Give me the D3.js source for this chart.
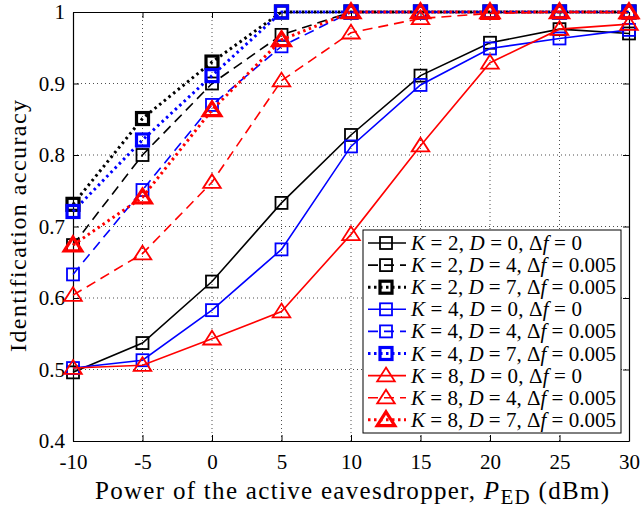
<!DOCTYPE html>
<html>
<head>
<meta charset="utf-8">
<script src="https://cdn.jsdelivr.net/npm/d3@7"></script>
<style>
  body { margin: 0; background: #fff; }
  svg text { font-family: "Liberation Serif", "DejaVu Serif", serif; }
</style>
</head>
<body>
<svg id="chart" width="643" height="510"></svg>
<script>
// power of eavesdropper (dBm)
const power = [-10, -5, 0, 5, 10, 15, 20, 25, 30];

// identification accuracy, one array per curve
const k2d0 = [0.496, 0.537, 0.623, 0.733, 0.828, 0.911, 0.957, 0.976, 0.970];
const k2d4 = [0.674, 0.800, 0.900, 0.968, 1.0, 1.0, 1.0, 1.0, 1.0];
const k2d7 = [0.731, 0.851, 0.930, 1.0, 1.0, 1.0, 1.0, 1.0, 1.0];
const k4d0 = [0.502, 0.513, 0.583, 0.668, 0.812, 0.898, 0.949, 0.963, 0.975];
const k4d4 = [0.633, 0.751, 0.870, 0.952, 1.0, 1.0, 1.0, 1.0, 1.0];
const k4d7 = [0.721, 0.821, 0.911, 1.0, 1.0, 1.0, 1.0, 1.0, 1.0];
const k8d0 = [0.502, 0.506, 0.543, 0.581, 0.689, 0.813, 0.929, 0.976, 0.983];
const k8d4 = [0.604, 0.662, 0.762, 0.904, 0.971, 0.991, 0.998, 1.0, 0.999];
const k8d7 = [0.674, 0.741, 0.863, 0.961, 1.0, 1.0, 1.0, 1.0, 1.0];

const xTicks = [-10, -5, 0, 5, 10, 15, 20, 25, 30];
const yTicks = [0.4, 0.5, 0.6, 0.7, 0.8, 0.9, 1];

const series = [
  { K: 2, D: 0, df: "0",     values: k2d0, color: "#000", style: "solid",  marker: "square" },
  { K: 2, D: 4, df: "0.005", values: k2d4, color: "#000", style: "dashed", marker: "square" },
  { K: 2, D: 7, df: "0.005", values: k2d7, color: "#000", style: "dotted", marker: "square" },
  { K: 4, D: 0, df: "0",     values: k4d0, color: "#0000ff", style: "solid",  marker: "square" },
  { K: 4, D: 4, df: "0.005", values: k4d4, color: "#0000ff", style: "dashed", marker: "square" },
  { K: 4, D: 7, df: "0.005", values: k4d7, color: "#0000ff", style: "dotted", marker: "square" },
  { K: 8, D: 0, df: "0",     values: k8d0, color: "#ff0000", style: "solid",  marker: "triangle" },
  { K: 8, D: 4, df: "0.005", values: k8d4, color: "#ff0000", style: "dashed", marker: "triangle" },
  { K: 8, D: 7, df: "0.005", values: k8d7, color: "#ff0000", style: "dotted", marker: "triangle" }
];

const svg = d3.select("#chart");
const margin = { left: 73, right: 14, top: 12, bottom: 69 };
const W = 643, H = 510;

const x = d3.scaleLinear().domain([-10, 30]).range([margin.left, W - margin.right]);
const y = d3.scaleLinear().domain([0.4, 1]).range([H - margin.bottom, margin.top]);

const x0 = x.range()[0], x1 = x.range()[1];
const y0 = y.range()[0], y1 = y.range()[1];

// grid
const grid = svg.append("g");
grid.selectAll(".vg").data(xTicks.slice(1, -1)).enter().append("line")
  .attr("x1", d => x(d)).attr("x2", d => x(d))
  .attr("y1", y0).attr("y2", y1)
  .attr("stroke", "#222").attr("stroke-width", 0.8).attr("stroke-dasharray", "1,3");
grid.selectAll(".hg").data(yTicks.slice(1, -1)).enter().append("line")
  .attr("y1", d => y(d)).attr("y2", d => y(d))
  .attr("x1", x0).attr("x2", x1)
  .attr("stroke", "#222").attr("stroke-width", 0.8).attr("stroke-dasharray", "1,3");

// axes
const fmtX = d => String(d).replace("\u2212", "-");
const fmtY = d => d === 1 ? "1" : d3.format(".1f")(d);

const xAxis = svg.append("g").attr("transform", `translate(0,${y0})`)
  .call(d3.axisBottom(x).tickValues(xTicks).tickSizeInner(-6).tickSizeOuter(0).tickPadding(13).tickFormat(fmtX));
const xAxisTop = svg.append("g").attr("transform", `translate(0,${y1})`)
  .call(d3.axisTop(x).tickValues(xTicks).tickSizeInner(-6).tickSizeOuter(0).tickFormat(""));
const yAxis = svg.append("g").attr("transform", `translate(${x0},0)`)
  .call(d3.axisLeft(y).tickValues(yTicks).tickSizeInner(-6).tickSizeOuter(0).tickPadding(8).tickFormat(fmtY));
const yAxisRight = svg.append("g").attr("transform", `translate(${x1},0)`)
  .call(d3.axisRight(y).tickValues(yTicks).tickSizeInner(-6).tickSizeOuter(0).tickFormat(""));

[xAxis, xAxisTop, yAxis, yAxisRight].forEach(a => {
  a.select(".domain").attr("stroke", "#000").attr("stroke-width", 1.2);
  a.selectAll(".tick line").attr("stroke", "#000").attr("stroke-width", 1);
  a.selectAll("text").attr("fill", "#000").style("font-size", "21px")
    .style("font-family", "'Liberation Serif', serif");
});

// lines and markers
const line = d3.line().x((d, i) => x(power[i])).y(d => y(d));

function dash(s) {
  if (s === "dashed") return "10,6";
  if (s === "dotted") return "2.5,3.5";
  return null;
}
function lw(s) { return s === "dotted" ? 3 : 1.6; }
function mw(s) { return s === "dotted" ? 3.2 : 1.8; }

function drawMarker(g, s, cx, cy) {
  if (s.marker === "square") {
    const h = 6;
    g.append("rect").attr("x", cx - h).attr("y", cy - h).attr("width", 2 * h).attr("height", 2 * h)
      .attr("fill", "none").attr("stroke", s.color).attr("stroke-width", mw(s.style));
  } else {
    const h = 8;
    g.append("path")
      .attr("d", `M${cx},${cy - h} L${cx + h * 1.1},${cy + h * 0.72} L${cx - h * 1.1},${cy + h * 0.72} Z`)
      .attr("fill", "none").attr("stroke", s.color).attr("stroke-width", mw(s.style))
      .attr("stroke-linejoin", "miter");
  }
}

const plot = svg.append("g");
series.forEach(s => {
  const g = plot.append("g");
  g.append("path").datum(s.values).attr("d", line)
    .attr("fill", "none").attr("stroke", s.color)
    .attr("stroke-width", lw(s.style))
    .attr("stroke-dasharray", dash(s.style));
  s.values.forEach((v, i) => drawMarker(g, s, x(power[i]), y(v)));
});

// legend
const lg = svg.append("g");
const lx = 363, ly = 230, lwid = 258, lhei = 203;
lg.append("rect").attr("x", lx).attr("y", ly).attr("width", lwid).attr("height", lhei)
  .attr("fill", "#fff").attr("stroke", "#000").attr("stroke-width", 1);
series.forEach((s, i) => {
  const cy = ly + 13 + i * 22.1;
  lg.append("line").attr("x1", lx + 5).attr("x2", lx + 43).attr("y1", cy).attr("y2", cy)
    .attr("stroke", s.color).attr("stroke-width", lw(s.style)).attr("stroke-dasharray", dash(s.style));
  drawMarker(lg, s, lx + 23, cy);
  const t = lg.append("text").attr("x", lx + 48).attr("y", cy + 7)
    .attr("textLength", s.df === "0" ? 171 : 205).attr("lengthAdjust", "spacing")
    .style("font-size", "21px").attr("fill", "#000");
  t.append("tspan").attr("font-style", "italic").text("K");
  t.append("tspan").text(` = ${s.K}, `);
  t.append("tspan").attr("font-style", "italic").text("D");
  t.append("tspan").text(` = ${s.D}, \u0394`);
  t.append("tspan").attr("font-style", "italic").text("f");
  t.append("tspan").text(` = ${s.df}`);
});

// axis titles
const xt = svg.append("text").attr("x", 95).attr("y", 499)
  .attr("textLength", 514).attr("lengthAdjust", "spacing")
  .style("font-size", "25px").attr("fill", "#000");
xt.append("tspan").text("Power of the active eavesdropper, ");
xt.append("tspan").attr("font-style", "italic").text("P");
xt.append("tspan").attr("dy", 5).style("font-size", "21px").text("ED");
xt.append("tspan").attr("dy", -5).text(" (dBm)");

svg.append("text").attr("transform", `translate(26,352) rotate(-90)`)
  .attr("textLength", 252).attr("lengthAdjust", "spacing")
  .style("font-size", "24px").attr("fill", "#000")
  .text("Identification accuracy");
</script>
</body>
</html>
